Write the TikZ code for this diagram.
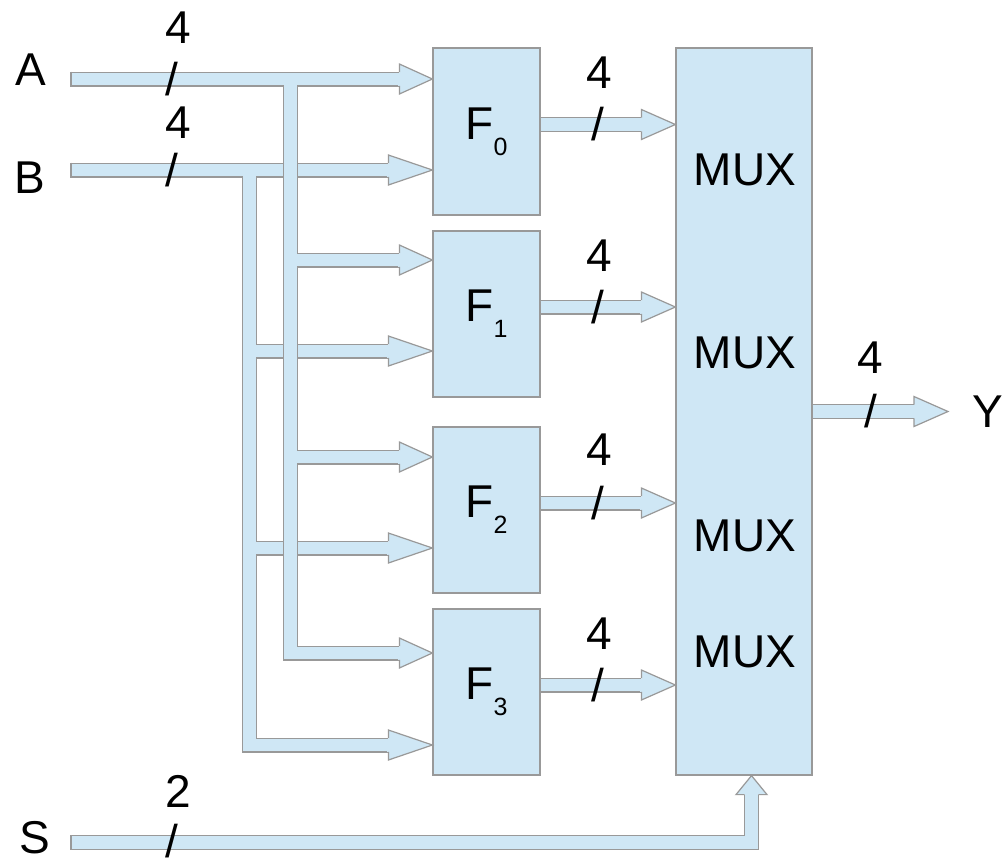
\documentclass[tikz,border=0pt]{standalone}
\usepackage{fontspec}
\setmainfont{Liberation Sans}
\usetikzlibrary{calc}
\definecolor{sigfill}{HTML}{CFE7F5}
\definecolor{sigedge}{HTML}{999999}
\tikzset{
  box/.style={draw=sigedge, fill=sigfill, line width=1.2pt, inner sep=0pt},
  bus/.style={draw=sigedge, double=sigfill, line width=1.2pt, double distance=12.6pt, line join=miter},
  endline/.style={draw=sigedge, line width=1.2pt},
  lbl/.style={font=\fontsize{46}{50}\selectfont, inner sep=0pt},
  headr/.pic={
    \fill[sigfill] (-#1,-15) -- (0,0) -- (-#1,15) -- cycle;
    \fill[sigfill] (-#1-1.5,-6.5) rectangle (-#1+0.5,6.5);
    \draw[sigedge, line width=1.2pt, line join=miter] (-#1,-6.9) -- (-#1,-15) -- (0,0) -- (-#1,15) -- (-#1,6.9);
  },
  headu/.pic={
    \fill[sigfill] (-15.5,19) -- (0,0) -- (15.5,19) -- cycle;
    \fill[sigfill] (-6.5,20.5) rectangle (6.5,18.5);
    \draw[sigedge, line width=1.2pt, line join=miter] (-6.9,19) -- (-15.5,19) -- (0,0) -- (15.5,19) -- (6.9,19);
  }
}
\newcommand{\flab}[1]{F\raisebox{-16pt}{\fontsize{25}{25}\selectfont #1}}
\begin{document}
\begin{tikzpicture}[x=1pt,y=-1pt]
\fill[white] (0,0) rectangle (1003,863);
\useasboundingbox (0,0) rectangle (1003,863);

% blocks
\node[box, lbl, minimum width=107pt, minimum height=167pt] (f0) at (486.5,131.5) {\flab{0}};
\node[box, lbl, minimum width=107pt, minimum height=166pt] (f1) at (486.5,314) {\flab{1}};
\node[box, lbl, minimum width=107pt, minimum height=166pt] (f2) at (486.5,510) {\flab{2}};
\node[box, lbl, minimum width=107pt, minimum height=166pt] (f3) at (486.5,692) {\flab{3}};
\node[box, minimum width=136pt, minimum height=727pt] (mux) at (744,411.5) {};
\node[lbl] (m0) at (745,170) {MUX};
\node[lbl] (m1) at (745,353) {MUX};
\node[lbl] (m2) at (745,536) {MUX};
\node[lbl] (m3) at (745,652) {MUX};

% free ends and tips
\coordinate (ain) at (71,79);
\coordinate (bin) at (71,170);
\coordinate (sin) at (71,842.5);
\coordinate (ajn) at (290.5,79);
\coordinate (bjn) at (249.5,170);
\coordinate (tA0) at (f0.west |- ain);
\coordinate (tB0) at (f0.west |- bin);
\coordinate (tA1) at (f1.west |- 0,260);
\coordinate (tB1) at (f1.west |- 0,351);
\coordinate (tA2) at (f2.west |- 0,457);
\coordinate (tB2) at (f2.west |- 0,548);
\coordinate (tA3) at (f3.west |- 0,653);
\coordinate (tB3) at (f3.west |- 0,745);
\coordinate (tO0) at (mux.west |- 0,124.5);
\coordinate (tO1) at (mux.west |- 0,307);
\coordinate (tO2) at (mux.west |- 0,503);
\coordinate (tO3) at (mux.west |- 0,685);
\coordinate (yout) at (948,411.5);
\coordinate (tS) at (mux.south -| 751.5,0);

% B bus
\draw[bus] (bin) -- ($(tB0)+(-44,0)$)
  (bjn) -- (bjn |- tB3) -- ($(tB3)+(-44,0)$)
  (bjn |- tB1) -- ($(tB1)+(-44,0)$)
  (bjn |- tB2) -- ($(tB2)+(-44,0)$);
% A bus
\draw[bus] (ain) -- ($(tA0)+(-33,0)$)
  (ajn) -- (ajn |- tA3) -- ($(tA3)+(-33,0)$)
  (ajn |- tA1) -- ($(tA1)+(-33,0)$)
  (ajn |- tA2) -- ($(tA2)+(-33,0)$);
% outputs
\draw[bus] (f0.east |- tO0) -- ($(tO0)+(-34,0)$);
\draw[bus] (f1.east |- tO1) -- ($(tO1)+(-34,0)$);
\draw[bus] (f2.east |- tO2) -- ($(tO2)+(-34,0)$);
\draw[bus] (f3.east |- tO3) -- ($(tO3)+(-34,0)$);
\draw[bus] (mux.east |- yout) -- ($(yout)+(-34,0)$);
% select
\draw[bus] (sin) -- (sin -| tS) -- ($(tS)+(0,19)$);

% closed ends
\draw[endline] ($(ain)+(0,-7.5)$) -- ($(ain)+(0,7.5)$);
\draw[endline] ($(bin)+(0,-7.5)$) -- ($(bin)+(0,7.5)$);
\draw[endline] ($(sin)+(0,-7.5)$) -- ($(sin)+(0,7.5)$);

% heads
\pic at (tA0) {headr=33};
\pic at (tA1) {headr=33};
\pic at (tA2) {headr=33};
\pic at (tA3) {headr=33};
\pic at (tB0) {headr=44};
\pic at (tB1) {headr=44};
\pic at (tB2) {headr=44};
\pic at (tB3) {headr=44};
\pic at (tO0) {headr=34};
\pic at (tO1) {headr=34};
\pic at (tO2) {headr=34};
\pic at (tO3) {headr=34};
\pic at (yout) {headr=34};
\pic at (tS) {headu};

% signal names
\node[lbl] (la) at (30.5,70) {A};
\node[lbl] (lb) at (29.5,178) {B};
\node[lbl] (ls) at (35,838) {S};
\node[lbl] (ly) at (988,412) {Y};

% widths
\node[lbl] (wa) at (178,28) {4};  \node[lbl] (xa) at (172,79) {/};
\node[lbl] (wb) at (178,123) {4}; \node[lbl] (xb) at (172,170) {/};
\node[lbl] (w0) at (599,73) {4};  \node[lbl] (x0) at (598,124.5) {/};
\node[lbl] (w1) at (599,256) {4}; \node[lbl] (x1) at (598,307) {/};
\node[lbl] (w2) at (599,450) {4}; \node[lbl] (x2) at (598,503) {/};
\node[lbl] (w3) at (599,634) {4}; \node[lbl] (x3) at (598,685) {/};
\node[lbl] (wy) at (870,358) {4}; \node[lbl] (xy) at (871,411.5) {/};
\node[lbl] (ws) at (178,791) {2}; \node[lbl] (xs) at (172,841) {/};
\end{tikzpicture}
\end{document}
